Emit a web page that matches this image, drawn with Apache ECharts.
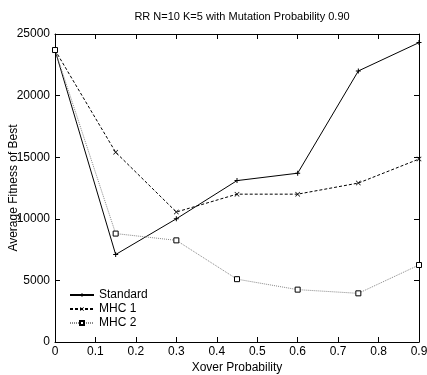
<!DOCTYPE html>
<html>
<head>
<meta charset="utf-8">
<script src="https://cdn.jsdelivr.net/npm/echarts@6/dist/echarts.min.js"></script>
<style>
  html, body { margin: 0; padding: 0; background: #fff; }
  #chart { width: 427px; height: 375px; }
</style>
</head>
<body>
<div id="chart"></div>
<script>
const xover = [0, 0.15, 0.3, 0.45, 0.6, 0.75, 0.9]
const standard = [23700, 7100, 10000, 13100, 13700, 22000, 24300]
const mhc1 = [23700, 15400, 10550, 12000, 12000, 12900, 14850]
const mhc2 = [23700, 8800, 8250, 5100, 4250, 3950, 6250]

const pair = (ys) => xover.map((x, i) => [x, ys[i]])

const font = 'Liberation Sans, Arial, sans-serif'
const plusPath = 'path://M4,0h2v4h4v2h-4v4h-2v-4h-4v-2h4z'
const crossPath = 'path://M0,1L1,0L5,4L9,0L10,1L6,5L10,9L9,10L5,6L1,10L0,9L4,5z'

const chart = echarts.init(document.getElementById('chart'))

const axisLine = () => ({ show: true, onZero: false, lineStyle: { color: '#000', width: 1 } })
const axisTick = () => ({ show: true, inside: true, length: 5, lineStyle: { color: '#000', width: 1 } })
const labelStyle = { fontFamily: font, fontSize: 12, color: '#000' }

const option = {
  animation: false,
  backgroundColor: '#fff',
  title: {
    text: 'RR N=10 K=5 with Mutation Probability 0.90',
    left: 237,
    textAlign: 'center',
    top: 6,
    textStyle: { fontFamily: font, fontSize: 11, fontWeight: 'normal', color: '#000' }
  },
  legend: {
    orient: 'vertical',
    left: 64,
    top: 284,
    itemWidth: 24,
    itemHeight: 5,
    itemGap: 2,
    textStyle: labelStyle,
    data: ['Standard', 'MHC 1', 'MHC 2']
  },
  grid: { left: 55, right: 8, top: 34, bottom: 33, outerBoundsMode: 'none' },
  xAxis: [
    {
      type: 'value',
      min: 0,
      max: 0.9,
      interval: 0.1,
      name: 'Xover Probability',
      nameLocation: 'middle',
      nameGap: 20,
      nameMoveOverlap: false,
      nameTextStyle: labelStyle,
      axisLine: axisLine(),
      axisTick: axisTick(),
      splitLine: { show: false },
      axisLabel: Object.assign({ margin: 4 }, labelStyle)
    },
    {
      type: 'value',
      position: 'top',
      min: 0,
      max: 0.9,
      interval: 0.1,
      axisLine: axisLine(),
      axisTick: axisTick(),
      splitLine: { show: false },
      axisLabel: { show: false }
    }
  ],
  yAxis: [
    {
      type: 'value',
      min: 0,
      max: 25000,
      interval: 5000,
      name: 'Average Fitness of Best',
      nameLocation: 'middle',
      nameGap: 35,
      nameMoveOverlap: false,
      nameTextStyle: labelStyle,
      axisLine: axisLine(),
      axisTick: axisTick(),
      splitLine: { show: false },
      axisLabel: Object.assign({ margin: 5, formatter: (v) => String(v) }, labelStyle)
    },
    {
      type: 'value',
      position: 'right',
      min: 0,
      max: 25000,
      interval: 5000,
      axisLine: axisLine(),
      axisTick: axisTick(),
      splitLine: { show: false },
      axisLabel: { show: false }
    }
  ],
  series: [
    {
      name: 'Standard',
      type: 'line',
      data: pair(standard),
      symbol: plusPath,
      symbolSize: 5,
      itemStyle: { color: '#000' },
      lineStyle: { color: '#000', width: 1 }
    },
    {
      name: 'MHC 1',
      type: 'line',
      data: pair(mhc1),
      symbol: crossPath,
      symbolSize: 5,
      itemStyle: { color: '#000' },
      lineStyle: { color: '#000', width: 1, type: [3, 2] }
    },
    {
      name: 'MHC 2',
      type: 'line',
      data: pair(mhc2),
      symbol: 'rect',
      symbolSize: 5,
      itemStyle: { color: '#fff', borderColor: '#000', borderWidth: 1 },
      lineStyle: { color: '#888', width: 1, type: [1, 1] }
    }
  ]
}

chart.setOption(option)
</script>
</body>
</html>
